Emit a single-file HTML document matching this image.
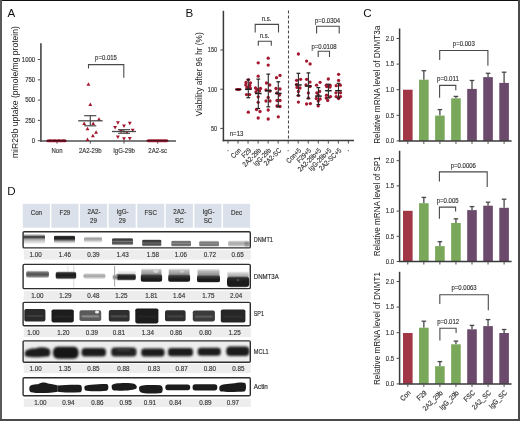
<!DOCTYPE html>
<html><head><meta charset="utf-8"><style>
html,body{margin:0;padding:0;background:#fff;width:520px;height:421px;overflow:hidden}
svg{display:block;will-change:transform}
text{font-family:"Liberation Sans", sans-serif}
text.t{stroke:#3a3a3a;stroke-width:0.16px}
</style></head><body>
<svg width="520" height="421" viewBox="0 0 520 421">
<defs>
<linearGradient id="g1" x1="0" y1="0" x2="0" y2="1"><stop offset="0" stop-color="#eeeeee"/><stop offset="0.15" stop-color="#9a9a9a"/><stop offset="0.27" stop-color="#3c3c3c"/><stop offset="0.38" stop-color="#4c4c4c"/><stop offset="0.5" stop-color="#9a9a9a"/><stop offset="0.7" stop-color="#c8c8c8"/><stop offset="1" stop-color="#f2f2f2"/></linearGradient>
<linearGradient id="g2" x1="0" y1="0" x2="0" y2="1"><stop offset="0" stop-color="#c8c8c8"/><stop offset="0.14" stop-color="#2a2a2a"/><stop offset="0.42" stop-color="#222"/><stop offset="0.56" stop-color="#5a5a5a"/><stop offset="0.75" stop-color="#b0b0b0"/><stop offset="1" stop-color="#f0f0f0"/></linearGradient>
<linearGradient id="g3" x1="0" y1="0" x2="0" y2="1"><stop offset="0" stop-color="#e8e8e8"/><stop offset="0.25" stop-color="#a2a2a2"/><stop offset="0.5" stop-color="#acacac"/><stop offset="0.75" stop-color="#d0d0d0"/><stop offset="1" stop-color="#f0f0f0"/></linearGradient>
<linearGradient id="g4" x1="0" y1="0" x2="0" y2="1"><stop offset="0" stop-color="#c5c5c5"/><stop offset="0.14" stop-color="#363636"/><stop offset="0.32" stop-color="#474747"/><stop offset="0.5" stop-color="#7a7a7a"/><stop offset="0.66" stop-color="#484848"/><stop offset="0.84" stop-color="#6a6a6a"/><stop offset="1" stop-color="#dddddd"/></linearGradient>
<linearGradient id="g5" x1="0" y1="0" x2="0" y2="1"><stop offset="0" stop-color="#c8c8c8"/><stop offset="0.12" stop-color="#363636"/><stop offset="0.35" stop-color="#444"/><stop offset="0.55" stop-color="#666"/><stop offset="0.75" stop-color="#4a4a4a"/><stop offset="0.9" stop-color="#888"/><stop offset="1" stop-color="#e0e0e0"/></linearGradient>
<linearGradient id="g6" x1="0" y1="0" x2="0" y2="1"><stop offset="0" stop-color="#dadada"/><stop offset="0.2" stop-color="#666"/><stop offset="0.5" stop-color="#858585"/><stop offset="0.75" stop-color="#5a5a5a"/><stop offset="1" stop-color="#c8c8c8"/></linearGradient>
<linearGradient id="g7" x1="0" y1="0" x2="0" y2="1"><stop offset="0" stop-color="#e0e0e0"/><stop offset="0.22" stop-color="#7a7a7a"/><stop offset="0.5" stop-color="#888"/><stop offset="0.78" stop-color="#6c6c6c"/><stop offset="1" stop-color="#cccccc"/></linearGradient>
<linearGradient id="g8" x1="0" y1="0" x2="0" y2="1"><stop offset="0" stop-color="#ececec"/><stop offset="0.3" stop-color="#b5b5b5"/><stop offset="0.6" stop-color="#acacac"/><stop offset="1" stop-color="#d8d8d8"/></linearGradient>
<linearGradient id="g9" x1="0" y1="0" x2="0" y2="1"><stop offset="0" stop-color="#ccc"/><stop offset="0.4" stop-color="#7a7a7a"/><stop offset="1" stop-color="#aaa"/></linearGradient>
<linearGradient id="g10" x1="0" y1="0" x2="0" y2="1"><stop offset="0" stop-color="#e6e6e6"/><stop offset="0.22" stop-color="#777"/><stop offset="0.5" stop-color="#4e4e4e"/><stop offset="0.78" stop-color="#777"/><stop offset="1" stop-color="#e6e6e6"/></linearGradient>
<linearGradient id="g11" x1="0" y1="0" x2="0" y2="1"><stop offset="0" stop-color="#c0c0c0"/><stop offset="0.2" stop-color="#2c2c2c"/><stop offset="0.5" stop-color="#1c1c1c"/><stop offset="0.8" stop-color="#2e2e2e"/><stop offset="1" stop-color="#cccccc"/></linearGradient>
<linearGradient id="g12" x1="0" y1="0" x2="0" y2="1"><stop offset="0" stop-color="#ececec"/><stop offset="0.3" stop-color="#b0b0b0"/><stop offset="0.6" stop-color="#ababab"/><stop offset="1" stop-color="#ececec"/></linearGradient>
<linearGradient id="g13" x1="0" y1="0" x2="0" y2="1"><stop offset="0" stop-color="#fafafa"/><stop offset="0.6" stop-color="#e4e4e4"/><stop offset="1" stop-color="#cfcfcf"/></linearGradient>
<linearGradient id="g14" x1="0" y1="0" x2="0" y2="1"><stop offset="0" stop-color="#c8c8c8"/><stop offset="0.2" stop-color="#3a3a3a"/><stop offset="0.5" stop-color="#202020"/><stop offset="0.8" stop-color="#2a2a2a"/><stop offset="1" stop-color="#c0c0c0"/></linearGradient>
<linearGradient id="g15" x1="0" y1="0" x2="0" y2="1"><stop offset="0" stop-color="#ddd"/><stop offset="0.5" stop-color="#7a7a7a"/><stop offset="1" stop-color="#ddd"/></linearGradient>
<linearGradient id="g16" x1="0" y1="0" x2="0" y2="1"><stop offset="0" stop-color="#eeeeee"/><stop offset="0.3" stop-color="#b8b8b8"/><stop offset="0.7" stop-color="#9a9a9a"/><stop offset="1" stop-color="#6a6a6a"/></linearGradient>
<linearGradient id="g17" x1="0" y1="0" x2="0" y2="1"><stop offset="0" stop-color="#8a8a8a"/><stop offset="0.2" stop-color="#3a3a3a"/><stop offset="0.6" stop-color="#1e1e1e"/><stop offset="0.9" stop-color="#1c1c1c"/><stop offset="1" stop-color="#aaa"/></linearGradient>
<linearGradient id="g18" x1="0" y1="0" x2="0" y2="1"><stop offset="0" stop-color="#eeeeee"/><stop offset="0.3" stop-color="#b8b8b8"/><stop offset="0.7" stop-color="#9a9a9a"/><stop offset="1" stop-color="#6a6a6a"/></linearGradient>
<linearGradient id="g19" x1="0" y1="0" x2="0" y2="1"><stop offset="0" stop-color="#8a8a8a"/><stop offset="0.2" stop-color="#3a3a3a"/><stop offset="0.6" stop-color="#1e1e1e"/><stop offset="0.9" stop-color="#1c1c1c"/><stop offset="1" stop-color="#aaa"/></linearGradient>
<linearGradient id="g20" x1="0" y1="0" x2="0" y2="1"><stop offset="0" stop-color="#eeeeee"/><stop offset="0.3" stop-color="#b8b8b8"/><stop offset="0.7" stop-color="#9a9a9a"/><stop offset="1" stop-color="#6a6a6a"/></linearGradient>
<linearGradient id="g21" x1="0" y1="0" x2="0" y2="1"><stop offset="0" stop-color="#8a8a8a"/><stop offset="0.2" stop-color="#3a3a3a"/><stop offset="0.6" stop-color="#1e1e1e"/><stop offset="0.9" stop-color="#1c1c1c"/><stop offset="1" stop-color="#aaa"/></linearGradient>
<linearGradient id="g22" x1="0" y1="0" x2="0" y2="1"><stop offset="0" stop-color="#f0f0f0"/><stop offset="0.4" stop-color="#c4c4c4"/><stop offset="1" stop-color="#9a9a9a"/></linearGradient>
<linearGradient id="g23" x1="0" y1="0" x2="0" y2="1"><stop offset="0" stop-color="#888"/><stop offset="0.15" stop-color="#2c2c2c"/><stop offset="0.5" stop-color="#1a1a1a"/><stop offset="0.9" stop-color="#1e1e1e"/><stop offset="1" stop-color="#777"/></linearGradient>
<filter id="b1" x="-20%" y="-50%" width="140%" height="200%"><feGaussianBlur stdDeviation="0.7"/></filter>
<filter id="b05" x="-20%" y="-50%" width="140%" height="200%"><feGaussianBlur stdDeviation="0.45"/></filter>
<filter id="b09" x="-20%" y="-50%" width="140%" height="200%"><feGaussianBlur stdDeviation="0.95"/></filter>
<filter id="b2" x="-20%" y="-50%" width="140%" height="200%"><feGaussianBlur stdDeviation="1.5"/></filter>
</defs>
<rect width="520" height="421" fill="#fff"/>
<rect x="0" y="0" width="520" height="1" fill="#111"/>
<rect x="0" y="0" width="2" height="421" fill="#5a5a5a"/>
<rect x="518" y="0" width="2" height="421" fill="#4a4a4a"/>
<rect x="0" y="419" width="520" height="2" fill="#4a4a4a"/>
<text x="7.60" y="17.20" font-size="11.60" textLength="7.74" lengthAdjust="spacingAndGlyphs" text-anchor="start" fill="#111" >A</text>
<text x="185.40" y="16.90" font-size="11.60" textLength="7.74" lengthAdjust="spacingAndGlyphs" text-anchor="start" fill="#111" >B</text>
<text x="363.20" y="17.10" font-size="11.60" textLength="8.38" lengthAdjust="spacingAndGlyphs" text-anchor="start" fill="#111" >C</text>
<text x="7.20" y="194.70" font-size="11.60" textLength="8.38" lengthAdjust="spacingAndGlyphs" text-anchor="start" fill="#111" >D</text>
<line x1="40.90" y1="43.30" x2="40.90" y2="141.80" stroke="#5a5a5a" stroke-width="1.8" />
<line x1="40.00" y1="141.00" x2="176.00" y2="141.00" stroke="#505050" stroke-width="1.7" />
<line x1="37.80" y1="140.70" x2="40.50" y2="140.70" stroke="#505050" stroke-width="1.0" />
<text class="t" x="35.20" y="143.05" font-size="6.90" textLength="3.34" lengthAdjust="spacingAndGlyphs" text-anchor="end" fill="#333" >0</text>
<line x1="37.80" y1="120.40" x2="40.50" y2="120.40" stroke="#505050" stroke-width="1.0" />
<text class="t" x="35.20" y="122.75" font-size="6.90" textLength="10.01" lengthAdjust="spacingAndGlyphs" text-anchor="end" fill="#333" >250</text>
<line x1="37.80" y1="100.10" x2="40.50" y2="100.10" stroke="#505050" stroke-width="1.0" />
<text class="t" x="35.20" y="102.45" font-size="6.90" textLength="10.01" lengthAdjust="spacingAndGlyphs" text-anchor="end" fill="#333" >500</text>
<line x1="37.80" y1="79.80" x2="40.50" y2="79.80" stroke="#505050" stroke-width="1.0" />
<text class="t" x="35.20" y="82.15" font-size="6.90" textLength="10.01" lengthAdjust="spacingAndGlyphs" text-anchor="end" fill="#333" >750</text>
<line x1="37.80" y1="59.50" x2="40.50" y2="59.50" stroke="#505050" stroke-width="1.0" />
<text class="t" x="35.20" y="61.85" font-size="6.90" textLength="13.35" lengthAdjust="spacingAndGlyphs" text-anchor="end" fill="#333" >1000</text>
<line x1="57.00" y1="141.00" x2="57.00" y2="143.60" stroke="#4a4a4a" stroke-width="1.0" />
<text class="t" x="57.00" y="153.20" font-size="6.90" textLength="11.01" lengthAdjust="spacingAndGlyphs" text-anchor="middle" fill="#333" >Non</text>
<line x1="90.30" y1="141.00" x2="90.30" y2="143.60" stroke="#4a4a4a" stroke-width="1.0" />
<text class="t" x="90.30" y="153.20" font-size="6.90" textLength="22.68" lengthAdjust="spacingAndGlyphs" text-anchor="middle" fill="#333" >2A2-29b</text>
<line x1="124.00" y1="141.00" x2="124.00" y2="143.60" stroke="#4a4a4a" stroke-width="1.0" />
<text class="t" x="124.00" y="153.20" font-size="6.90" textLength="21.68" lengthAdjust="spacingAndGlyphs" text-anchor="middle" fill="#333" >IgG-29b</text>
<line x1="157.70" y1="141.00" x2="157.70" y2="143.60" stroke="#4a4a4a" stroke-width="1.0" />
<text class="t" x="157.70" y="153.20" font-size="6.90" textLength="18.67" lengthAdjust="spacingAndGlyphs" text-anchor="middle" fill="#333" >2A2-sc</text>
<text x="0" y="0" font-size="8.45" textLength="132.00" lengthAdjust="spacingAndGlyphs" text-anchor="middle" dominant-baseline="central" fill="#222" transform="translate(15.20,92.10) rotate(-90)">miR29b uptake (pmole/mg protein)</text>
<polyline points="88.5,68.5 88.5,64.6 123.8,64.6 123.8,77.7" fill="none" stroke="#4a4a4a" stroke-width="1.1"/>
<text class="t" x="106.00" y="60.20" font-size="6.90" textLength="21.86" lengthAdjust="spacingAndGlyphs" text-anchor="middle" fill="#333" >p=0.015</text>
<rect x="46.8" y="139.5" width="19.4" height="2.7" rx="1" fill="#a3243a"/>
<polygon points="46.55,142.11 49.45,142.11 48.00,139.50" fill="#a3182f"/>
<polygon points="48.75,139.50 51.65,139.50 50.20,142.11" fill="#a3182f"/>
<polygon points="50.95,142.11 53.85,142.11 52.40,139.50" fill="#a3182f"/>
<polygon points="53.15,139.50 56.05,139.50 54.60,142.11" fill="#a3182f"/>
<polygon points="55.35,142.11 58.25,142.11 56.80,139.50" fill="#a3182f"/>
<polygon points="57.55,139.50 60.45,139.50 59.00,142.11" fill="#a3182f"/>
<polygon points="59.75,142.11 62.65,142.11 61.20,139.50" fill="#a3182f"/>
<polygon points="61.95,139.50 64.85,139.50 63.40,142.11" fill="#a3182f"/>
<polygon points="63.75,142.11 66.65,142.11 65.20,139.50" fill="#a3182f"/>
<line x1="46.50" y1="140.80" x2="66.50" y2="140.80" stroke="#2a0610" stroke-width="1.1" />
<polygon points="86.45,85.85 90.35,85.85 88.40,82.34" fill="#a3182f"/>
<polygon points="88.35,106.05 92.25,106.05 90.30,102.55" fill="#a3182f"/>
<polygon points="97.05,120.75 100.95,120.75 99.00,117.25" fill="#a3182f"/>
<polygon points="82.25,124.95 86.15,124.95 84.20,121.45" fill="#a3182f"/>
<polygon points="91.25,124.95 95.15,124.95 93.20,121.45" fill="#a3182f"/>
<polygon points="85.55,130.35 89.45,130.35 87.50,126.84" fill="#a3182f"/>
<polygon points="94.15,133.85 98.05,133.85 96.10,130.34" fill="#a3182f"/>
<polygon points="90.95,137.35 94.85,137.35 92.90,133.84" fill="#a3182f"/>
<polygon points="85.55,140.95 89.45,140.95 87.50,137.44" fill="#a3182f"/>
<line x1="78.20" y1="120.80" x2="102.70" y2="120.80" stroke="#4a4a4a" stroke-width="1.3" />
<line x1="84.20" y1="115.70" x2="96.30" y2="115.70" stroke="#4a4a4a" stroke-width="1.2" />
<line x1="84.20" y1="125.80" x2="96.30" y2="125.80" stroke="#4a4a4a" stroke-width="1.2" />
<line x1="90.30" y1="115.70" x2="90.30" y2="125.80" stroke="#4a4a4a" stroke-width="1.2" />
<polygon points="115.95,121.15 119.85,121.15 117.90,124.66" fill="#a3182f"/>
<polygon points="127.85,121.75 131.75,121.75 129.80,125.25" fill="#a3182f"/>
<polygon points="122.05,124.55 125.95,124.55 124.00,128.06" fill="#a3182f"/>
<polygon points="113.15,125.95 117.05,125.95 115.10,129.46" fill="#a3182f"/>
<polygon points="119.15,130.05 123.05,130.05 121.10,133.56" fill="#a3182f"/>
<polygon points="124.95,130.94 128.85,130.94 126.90,134.45" fill="#a3182f"/>
<polygon points="130.75,128.65 134.65,128.65 132.70,132.16" fill="#a3182f"/>
<polygon points="115.95,135.55 119.85,135.55 117.90,139.06" fill="#a3182f"/>
<polygon points="122.05,137.25 125.95,137.25 124.00,140.75" fill="#a3182f"/>
<polygon points="127.85,137.05 131.75,137.05 129.80,140.56" fill="#a3182f"/>
<line x1="112.00" y1="131.50" x2="136.00" y2="131.50" stroke="#4a4a4a" stroke-width="1.3" />
<line x1="118.00" y1="129.60" x2="130.00" y2="129.60" stroke="#4a4a4a" stroke-width="1.1" />
<line x1="118.00" y1="133.30" x2="130.00" y2="133.30" stroke="#4a4a4a" stroke-width="1.1" />
<line x1="124.00" y1="129.60" x2="124.00" y2="133.30" stroke="#4a4a4a" stroke-width="1.1" />
<rect x="147" y="139.3" width="21" height="3.0" rx="1.2" fill="#a8283c"/>
<line x1="146.50" y1="140.80" x2="168.50" y2="140.80" stroke="#2a0610" stroke-width="1.0" />
<line x1="223.40" y1="10.80" x2="223.40" y2="141.30" stroke="#3a3a3a" stroke-width="1.5" />
<line x1="222.70" y1="140.60" x2="354.00" y2="140.60" stroke="#3a3a3a" stroke-width="1.5" />
<line x1="220.30" y1="128.40" x2="223.30" y2="128.40" stroke="#4a4a4a" stroke-width="1.0" />
<text class="t" x="217.10" y="130.75" font-size="6.77" textLength="6.17" lengthAdjust="spacingAndGlyphs" text-anchor="end" fill="#333" >50</text>
<line x1="220.30" y1="89.20" x2="223.30" y2="89.20" stroke="#4a4a4a" stroke-width="1.0" />
<text class="t" x="217.10" y="91.55" font-size="6.77" textLength="9.26" lengthAdjust="spacingAndGlyphs" text-anchor="end" fill="#333" >100</text>
<line x1="220.30" y1="50.00" x2="223.30" y2="50.00" stroke="#4a4a4a" stroke-width="1.0" />
<text class="t" x="217.10" y="52.35" font-size="6.77" textLength="9.26" lengthAdjust="spacingAndGlyphs" text-anchor="end" fill="#333" >150</text>
<line x1="228.00" y1="141.00" x2="228.00" y2="143.60" stroke="#4a4a4a" stroke-width="1.0" />
<line x1="238.03" y1="141.00" x2="238.03" y2="143.60" stroke="#4a4a4a" stroke-width="1.0" />
<line x1="248.06" y1="141.00" x2="248.06" y2="143.60" stroke="#4a4a4a" stroke-width="1.0" />
<line x1="258.09" y1="141.00" x2="258.09" y2="143.60" stroke="#4a4a4a" stroke-width="1.0" />
<line x1="268.12" y1="141.00" x2="268.12" y2="143.60" stroke="#4a4a4a" stroke-width="1.0" />
<line x1="278.15" y1="141.00" x2="278.15" y2="143.60" stroke="#4a4a4a" stroke-width="1.0" />
<line x1="288.18" y1="141.00" x2="288.18" y2="143.60" stroke="#4a4a4a" stroke-width="1.0" />
<line x1="298.21" y1="141.00" x2="298.21" y2="143.60" stroke="#4a4a4a" stroke-width="1.0" />
<line x1="308.24" y1="141.00" x2="308.24" y2="143.60" stroke="#4a4a4a" stroke-width="1.0" />
<line x1="318.27" y1="141.00" x2="318.27" y2="143.60" stroke="#4a4a4a" stroke-width="1.0" />
<line x1="328.30" y1="141.00" x2="328.30" y2="143.60" stroke="#4a4a4a" stroke-width="1.0" />
<line x1="338.33" y1="141.00" x2="338.33" y2="143.60" stroke="#4a4a4a" stroke-width="1.0" />
<line x1="348.36" y1="141.00" x2="348.36" y2="143.60" stroke="#4a4a4a" stroke-width="1.0" />
<line x1="288.50" y1="10.50" x2="288.50" y2="140.60" stroke="#4a4a4a" stroke-width="1.1" stroke-dasharray="3,2"/>
<text x="0" y="0" font-size="8.30" textLength="83.95" lengthAdjust="spacingAndGlyphs" text-anchor="middle" dominant-baseline="central" fill="#222" transform="translate(198.60,74.20) rotate(-90)">Viability after 96 hr (%)</text>
<text class="t" x="229.70" y="135.90" font-size="7.01" textLength="13.74" lengthAdjust="spacingAndGlyphs" text-anchor="start" fill="#333" >n=13</text>
<rect x="227.40" y="150" width="1.2" height="1.2" fill="#777"/>
<text class="t" x="0" y="0" font-size="7.01" textLength="11.19" lengthAdjust="spacingAndGlyphs" text-anchor="end" fill="#333" transform="translate(241.53,150.90) rotate(-45)">Con</text>
<text class="t" x="0" y="0" font-size="7.01" textLength="10.51" lengthAdjust="spacingAndGlyphs" text-anchor="end" fill="#333" transform="translate(251.56,150.90) rotate(-45)">F29</text>
<text class="t" x="0" y="0" font-size="7.01" textLength="23.06" lengthAdjust="spacingAndGlyphs" text-anchor="end" fill="#333" transform="translate(261.59,150.90) rotate(-45)">2A2-29b</text>
<text class="t" x="0" y="0" font-size="7.01" textLength="22.04" lengthAdjust="spacingAndGlyphs" text-anchor="end" fill="#333" transform="translate(271.62,150.90) rotate(-45)">IgG-29b</text>
<text class="t" x="0" y="0" font-size="7.01" textLength="21.36" lengthAdjust="spacingAndGlyphs" text-anchor="end" fill="#333" transform="translate(281.65,150.90) rotate(-45)">2A2-SC</text>
<rect x="287.58" y="150" width="1.2" height="1.2" fill="#777"/>
<text class="t" x="0" y="0" font-size="7.01" textLength="18.15" lengthAdjust="spacingAndGlyphs" text-anchor="end" fill="#333" transform="translate(301.71,150.90) rotate(-45)">Con+5</text>
<text class="t" x="0" y="0" font-size="7.01" textLength="17.47" lengthAdjust="spacingAndGlyphs" text-anchor="end" fill="#333" transform="translate(311.74,150.90) rotate(-45)">F29+5</text>
<text class="t" x="0" y="0" font-size="7.01" textLength="30.02" lengthAdjust="spacingAndGlyphs" text-anchor="end" fill="#333" transform="translate(321.77,150.90) rotate(-45)">2A2-29b+5</text>
<text class="t" x="0" y="0" font-size="7.01" textLength="29.00" lengthAdjust="spacingAndGlyphs" text-anchor="end" fill="#333" transform="translate(331.80,150.90) rotate(-45)">IgG-29b+5</text>
<text class="t" x="0" y="0" font-size="7.01" textLength="28.31" lengthAdjust="spacingAndGlyphs" text-anchor="end" fill="#333" transform="translate(341.83,150.90) rotate(-45)">2A2-SC+5</text>
<rect x="347.76" y="150" width="1.2" height="1.2" fill="#777"/>
<polyline points="255.2,32.6 255.2,24.4 278.5,24.4 278.5,32.6" fill="none" stroke="#4a4a4a" stroke-width="1.1"/>
<text class="t" x="266.60" y="21.10" font-size="6.90" textLength="9.67" lengthAdjust="spacingAndGlyphs" text-anchor="middle" fill="#333" >n.s.</text>
<polyline points="258.3,45.8 258.3,41.3 271.3,41.3 271.3,45.8" fill="none" stroke="#4a4a4a" stroke-width="1.1"/>
<text class="t" x="264.50" y="38.00" font-size="6.90" textLength="9.67" lengthAdjust="spacingAndGlyphs" text-anchor="middle" fill="#333" >n.s.</text>
<polyline points="316.6,33.5 316.6,26.2 339.2,26.2 339.2,33.5" fill="none" stroke="#4a4a4a" stroke-width="1.1"/>
<text class="t" x="327.60" y="23.00" font-size="6.90" textLength="25.19" lengthAdjust="spacingAndGlyphs" text-anchor="middle" fill="#333" >p=0.0304</text>
<polyline points="318.2,57 318.2,51.2 329.5,51.2 329.5,57" fill="none" stroke="#4a4a4a" stroke-width="1.1"/>
<text class="t" x="324.00" y="48.50" font-size="6.90" textLength="25.19" lengthAdjust="spacingAndGlyphs" text-anchor="middle" fill="#333" >p=0.0108</text>
<ellipse cx="238.3" cy="89.5" rx="3.3" ry="1.4" fill="#8a1226"/>
<line x1="235.60" y1="89.50" x2="241.00" y2="89.50" stroke="#1a0508" stroke-width="1.2" />
<circle cx="248.30" cy="79.60" r="1.65" fill="#a3182f"/>
<circle cx="246.00" cy="82.40" r="1.65" fill="#a3182f"/>
<circle cx="250.50" cy="82.80" r="1.65" fill="#a3182f"/>
<circle cx="245.80" cy="85.00" r="1.65" fill="#a3182f"/>
<circle cx="249.80" cy="85.50" r="1.65" fill="#a3182f"/>
<circle cx="247.00" cy="87.50" r="1.65" fill="#a3182f"/>
<circle cx="250.30" cy="88.20" r="1.65" fill="#a3182f"/>
<circle cx="246.50" cy="94.60" r="1.65" fill="#a3182f"/>
<circle cx="249.60" cy="94.60" r="1.65" fill="#a3182f"/>
<circle cx="248.30" cy="112.20" r="1.65" fill="#a3182f"/>
<line x1="245.00" y1="89.30" x2="251.60" y2="89.30" stroke="#1e1e1e" stroke-width="1.5" />
<line x1="248.30" y1="79.80" x2="248.30" y2="97.70" stroke="#2a2a2a" stroke-width="1.1" />
<line x1="246.40" y1="79.80" x2="250.20" y2="79.80" stroke="#1e1e1e" stroke-width="1.2" />
<line x1="246.40" y1="97.70" x2="250.20" y2="97.70" stroke="#1e1e1e" stroke-width="1.2" />
<circle cx="258.20" cy="62.80" r="1.65" fill="#a3182f"/>
<circle cx="258.20" cy="76.20" r="1.65" fill="#a3182f"/>
<circle cx="255.50" cy="88.00" r="1.65" fill="#a3182f"/>
<circle cx="257.00" cy="89.50" r="1.65" fill="#a3182f"/>
<circle cx="260.50" cy="88.50" r="1.65" fill="#a3182f"/>
<circle cx="256.00" cy="92.00" r="1.65" fill="#a3182f"/>
<circle cx="259.50" cy="91.00" r="1.65" fill="#a3182f"/>
<circle cx="258.20" cy="96.80" r="1.65" fill="#a3182f"/>
<circle cx="258.20" cy="102.30" r="1.65" fill="#a3182f"/>
<circle cx="256.50" cy="109.50" r="1.65" fill="#a3182f"/>
<circle cx="260.00" cy="111.50" r="1.65" fill="#a3182f"/>
<circle cx="258.20" cy="118.00" r="1.65" fill="#a3182f"/>
<line x1="255.00" y1="93.50" x2="261.60" y2="93.50" stroke="#1e1e1e" stroke-width="1.5" />
<line x1="258.30" y1="79.10" x2="258.30" y2="108.50" stroke="#2a2a2a" stroke-width="1.1" />
<line x1="256.40" y1="79.10" x2="260.20" y2="79.10" stroke="#1e1e1e" stroke-width="1.2" />
<line x1="256.40" y1="108.50" x2="260.20" y2="108.50" stroke="#1e1e1e" stroke-width="1.2" />
<circle cx="268.20" cy="58.20" r="1.65" fill="#a3182f"/>
<circle cx="268.20" cy="65.10" r="1.65" fill="#a3182f"/>
<circle cx="266.50" cy="83.00" r="1.65" fill="#a3182f"/>
<circle cx="269.80" cy="85.00" r="1.65" fill="#a3182f"/>
<circle cx="266.00" cy="90.00" r="1.65" fill="#a3182f"/>
<circle cx="270.00" cy="91.00" r="1.65" fill="#a3182f"/>
<circle cx="268.20" cy="97.50" r="1.65" fill="#a3182f"/>
<circle cx="266.00" cy="101.00" r="1.65" fill="#a3182f"/>
<circle cx="270.00" cy="101.00" r="1.65" fill="#a3182f"/>
<circle cx="268.20" cy="110.00" r="1.65" fill="#a3182f"/>
<circle cx="268.20" cy="119.00" r="1.65" fill="#a3182f"/>
<line x1="265.00" y1="90.70" x2="271.60" y2="90.70" stroke="#1e1e1e" stroke-width="1.5" />
<line x1="268.30" y1="74.10" x2="268.30" y2="106.80" stroke="#2a2a2a" stroke-width="1.1" />
<line x1="266.40" y1="74.10" x2="270.20" y2="74.10" stroke="#1e1e1e" stroke-width="1.2" />
<line x1="266.40" y1="106.80" x2="270.20" y2="106.80" stroke="#1e1e1e" stroke-width="1.2" />
<circle cx="280.00" cy="75.40" r="1.65" fill="#a3182f"/>
<circle cx="276.50" cy="77.70" r="1.65" fill="#a3182f"/>
<circle cx="276.00" cy="88.50" r="1.65" fill="#a3182f"/>
<circle cx="280.00" cy="89.00" r="1.65" fill="#a3182f"/>
<circle cx="277.00" cy="93.00" r="1.65" fill="#a3182f"/>
<circle cx="279.50" cy="95.00" r="1.65" fill="#a3182f"/>
<circle cx="277.00" cy="100.50" r="1.65" fill="#a3182f"/>
<circle cx="280.00" cy="100.50" r="1.65" fill="#a3182f"/>
<circle cx="277.00" cy="106.00" r="1.65" fill="#a3182f"/>
<circle cx="280.00" cy="106.50" r="1.65" fill="#a3182f"/>
<circle cx="278.30" cy="116.80" r="1.65" fill="#a3182f"/>
<line x1="275.00" y1="93.40" x2="281.60" y2="93.40" stroke="#1e1e1e" stroke-width="1.5" />
<line x1="278.30" y1="81.80" x2="278.30" y2="106.80" stroke="#2a2a2a" stroke-width="1.1" />
<line x1="276.40" y1="81.80" x2="280.20" y2="81.80" stroke="#1e1e1e" stroke-width="1.2" />
<line x1="276.40" y1="106.80" x2="280.20" y2="106.80" stroke="#1e1e1e" stroke-width="1.2" />
<circle cx="298.40" cy="54.00" r="1.65" fill="#a3182f"/>
<circle cx="296.60" cy="80.30" r="1.65" fill="#a3182f"/>
<circle cx="300.60" cy="79.30" r="1.65" fill="#a3182f"/>
<circle cx="296.60" cy="84.30" r="1.65" fill="#a3182f"/>
<circle cx="297.00" cy="87.40" r="1.65" fill="#a3182f"/>
<circle cx="300.00" cy="88.00" r="1.65" fill="#a3182f"/>
<circle cx="298.40" cy="91.40" r="1.65" fill="#a3182f"/>
<circle cx="298.40" cy="95.40" r="1.65" fill="#a3182f"/>
<circle cx="298.40" cy="102.10" r="1.65" fill="#a3182f"/>
<line x1="295.10" y1="85.00" x2="301.70" y2="85.00" stroke="#1e1e1e" stroke-width="1.5" />
<line x1="298.40" y1="73.30" x2="298.40" y2="95.70" stroke="#2a2a2a" stroke-width="1.1" />
<line x1="296.50" y1="73.30" x2="300.30" y2="73.30" stroke="#1e1e1e" stroke-width="1.2" />
<line x1="296.50" y1="95.70" x2="300.30" y2="95.70" stroke="#1e1e1e" stroke-width="1.2" />
<circle cx="306.60" cy="61.10" r="1.65" fill="#a3182f"/>
<circle cx="310.10" cy="63.90" r="1.65" fill="#a3182f"/>
<circle cx="306.60" cy="79.30" r="1.65" fill="#a3182f"/>
<circle cx="310.00" cy="82.10" r="1.65" fill="#a3182f"/>
<circle cx="306.00" cy="85.00" r="1.65" fill="#a3182f"/>
<circle cx="310.00" cy="86.50" r="1.65" fill="#a3182f"/>
<circle cx="308.40" cy="92.90" r="1.65" fill="#a3182f"/>
<circle cx="308.40" cy="97.90" r="1.65" fill="#a3182f"/>
<circle cx="306.60" cy="104.00" r="1.65" fill="#a3182f"/>
<circle cx="310.40" cy="103.60" r="1.65" fill="#a3182f"/>
<line x1="305.10" y1="86.00" x2="311.70" y2="86.00" stroke="#1e1e1e" stroke-width="1.5" />
<line x1="308.40" y1="72.90" x2="308.40" y2="98.60" stroke="#2a2a2a" stroke-width="1.1" />
<line x1="306.50" y1="72.90" x2="310.30" y2="72.90" stroke="#1e1e1e" stroke-width="1.2" />
<line x1="306.50" y1="98.60" x2="310.30" y2="98.60" stroke="#1e1e1e" stroke-width="1.2" />
<circle cx="320.10" cy="82.30" r="1.65" fill="#a3182f"/>
<circle cx="316.60" cy="85.20" r="1.65" fill="#a3182f"/>
<circle cx="319.60" cy="91.40" r="1.65" fill="#a3182f"/>
<circle cx="316.80" cy="92.80" r="1.65" fill="#a3182f"/>
<circle cx="318.20" cy="95.00" r="1.65" fill="#a3182f"/>
<circle cx="316.30" cy="98.50" r="1.65" fill="#a3182f"/>
<circle cx="320.10" cy="99.00" r="1.65" fill="#a3182f"/>
<circle cx="318.30" cy="101.00" r="1.65" fill="#a3182f"/>
<circle cx="318.20" cy="105.90" r="1.65" fill="#a3182f"/>
<line x1="315.10" y1="96.10" x2="321.70" y2="96.10" stroke="#1e1e1e" stroke-width="1.5" />
<line x1="318.40" y1="87.60" x2="318.40" y2="104.50" stroke="#2a2a2a" stroke-width="1.1" />
<line x1="316.50" y1="87.60" x2="320.30" y2="87.60" stroke="#1e1e1e" stroke-width="1.2" />
<line x1="316.50" y1="104.50" x2="320.30" y2="104.50" stroke="#1e1e1e" stroke-width="1.2" />
<circle cx="328.30" cy="79.00" r="1.65" fill="#a3182f"/>
<circle cx="326.30" cy="85.20" r="1.65" fill="#a3182f"/>
<circle cx="330.20" cy="85.40" r="1.65" fill="#a3182f"/>
<circle cx="326.70" cy="86.60" r="1.65" fill="#a3182f"/>
<circle cx="330.00" cy="87.00" r="1.65" fill="#a3182f"/>
<circle cx="326.50" cy="95.20" r="1.65" fill="#a3182f"/>
<circle cx="330.50" cy="96.60" r="1.65" fill="#a3182f"/>
<circle cx="326.20" cy="98.00" r="1.65" fill="#a3182f"/>
<circle cx="327.70" cy="100.40" r="1.65" fill="#a3182f"/>
<line x1="325.10" y1="90.70" x2="331.70" y2="90.70" stroke="#1e1e1e" stroke-width="1.5" />
<line x1="328.40" y1="84.20" x2="328.40" y2="98.00" stroke="#2a2a2a" stroke-width="1.1" />
<line x1="326.50" y1="84.20" x2="330.30" y2="84.20" stroke="#1e1e1e" stroke-width="1.2" />
<line x1="326.50" y1="98.00" x2="330.30" y2="98.00" stroke="#1e1e1e" stroke-width="1.2" />
<circle cx="338.60" cy="74.30" r="1.65" fill="#a3182f"/>
<circle cx="338.60" cy="80.40" r="1.65" fill="#a3182f"/>
<circle cx="336.20" cy="85.70" r="1.65" fill="#a3182f"/>
<circle cx="340.30" cy="85.20" r="1.65" fill="#a3182f"/>
<circle cx="336.00" cy="92.80" r="1.65" fill="#a3182f"/>
<circle cx="340.50" cy="92.80" r="1.65" fill="#a3182f"/>
<circle cx="336.20" cy="96.60" r="1.65" fill="#a3182f"/>
<circle cx="340.50" cy="96.60" r="1.65" fill="#a3182f"/>
<circle cx="338.60" cy="98.50" r="1.65" fill="#a3182f"/>
<line x1="335.20" y1="90.70" x2="341.80" y2="90.70" stroke="#1e1e1e" stroke-width="1.5" />
<line x1="338.50" y1="83.30" x2="338.50" y2="98.00" stroke="#2a2a2a" stroke-width="1.1" />
<line x1="336.60" y1="83.30" x2="340.40" y2="83.30" stroke="#1e1e1e" stroke-width="1.2" />
<line x1="336.60" y1="98.00" x2="340.40" y2="98.00" stroke="#1e1e1e" stroke-width="1.2" />
<rect x="403.00" y="89.70" width="9.6" height="51.20" fill="#a03646"/>
<line x1="423.85" y1="70.70" x2="423.85" y2="79.70" stroke="#484848" stroke-width="1.3" />
<line x1="421.55" y1="70.70" x2="426.15" y2="70.70" stroke="#484848" stroke-width="1.3" />
<rect x="419.05" y="79.70" width="9.6" height="61.20" fill="#79a85b"/>
<line x1="439.90" y1="109.60" x2="439.90" y2="115.60" stroke="#484848" stroke-width="1.3" />
<line x1="437.60" y1="109.60" x2="442.20" y2="109.60" stroke="#484848" stroke-width="1.3" />
<rect x="435.10" y="115.60" width="9.6" height="25.30" fill="#79a85b"/>
<line x1="455.95" y1="96.40" x2="455.95" y2="98.30" stroke="#484848" stroke-width="1.3" />
<line x1="453.65" y1="96.40" x2="458.25" y2="96.40" stroke="#484848" stroke-width="1.3" />
<rect x="451.15" y="98.30" width="9.6" height="42.60" fill="#79a85b"/>
<line x1="472.00" y1="80.50" x2="472.00" y2="88.90" stroke="#484848" stroke-width="1.3" />
<line x1="469.70" y1="80.50" x2="474.30" y2="80.50" stroke="#484848" stroke-width="1.3" />
<rect x="467.20" y="88.90" width="9.6" height="52.00" fill="#6b4a6c"/>
<line x1="488.05" y1="73.30" x2="488.05" y2="77.10" stroke="#484848" stroke-width="1.3" />
<line x1="485.75" y1="73.30" x2="490.35" y2="73.30" stroke="#484848" stroke-width="1.3" />
<rect x="483.25" y="77.10" width="9.6" height="63.80" fill="#6b4a6c"/>
<line x1="504.10" y1="72.20" x2="504.10" y2="82.90" stroke="#484848" stroke-width="1.3" />
<line x1="501.80" y1="72.20" x2="506.40" y2="72.20" stroke="#484848" stroke-width="1.3" />
<rect x="499.30" y="82.90" width="9.6" height="58.00" fill="#6b4a6c"/>
<line x1="399.60" y1="28.50" x2="399.60" y2="141.50" stroke="#3a3a3a" stroke-width="1.5" />
<line x1="398.90" y1="140.90" x2="511.60" y2="140.90" stroke="#3a3a3a" stroke-width="1.5" />
<line x1="396.60" y1="140.90" x2="399.60" y2="140.90" stroke="#4a4a4a" stroke-width="1.0" />
<text class="t" x="394.20" y="143.25" font-size="6.90" textLength="8.34" lengthAdjust="spacingAndGlyphs" text-anchor="end" fill="#333" >0.0</text>
<line x1="396.60" y1="115.30" x2="399.60" y2="115.30" stroke="#4a4a4a" stroke-width="1.0" />
<text class="t" x="394.20" y="117.65" font-size="6.90" textLength="8.34" lengthAdjust="spacingAndGlyphs" text-anchor="end" fill="#333" >0.5</text>
<line x1="396.60" y1="89.70" x2="399.60" y2="89.70" stroke="#4a4a4a" stroke-width="1.0" />
<text class="t" x="394.20" y="92.05" font-size="6.90" textLength="8.34" lengthAdjust="spacingAndGlyphs" text-anchor="end" fill="#333" >1.0</text>
<line x1="396.60" y1="64.10" x2="399.60" y2="64.10" stroke="#4a4a4a" stroke-width="1.0" />
<text class="t" x="394.20" y="66.45" font-size="6.90" textLength="8.34" lengthAdjust="spacingAndGlyphs" text-anchor="end" fill="#333" >1.5</text>
<line x1="396.60" y1="38.50" x2="399.60" y2="38.50" stroke="#4a4a4a" stroke-width="1.0" />
<text class="t" x="394.20" y="40.85" font-size="6.90" textLength="8.34" lengthAdjust="spacingAndGlyphs" text-anchor="end" fill="#333" >2.0</text>
<line x1="407.80" y1="141.40" x2="407.80" y2="143.90" stroke="#4a4a4a" stroke-width="1.0" />
<line x1="423.85" y1="141.40" x2="423.85" y2="143.90" stroke="#4a4a4a" stroke-width="1.0" />
<line x1="439.90" y1="141.40" x2="439.90" y2="143.90" stroke="#4a4a4a" stroke-width="1.0" />
<line x1="455.95" y1="141.40" x2="455.95" y2="143.90" stroke="#4a4a4a" stroke-width="1.0" />
<line x1="472.00" y1="141.40" x2="472.00" y2="143.90" stroke="#4a4a4a" stroke-width="1.0" />
<line x1="488.05" y1="141.40" x2="488.05" y2="143.90" stroke="#4a4a4a" stroke-width="1.0" />
<line x1="504.10" y1="141.40" x2="504.10" y2="143.90" stroke="#4a4a4a" stroke-width="1.0" />
<text x="0" y="0" font-size="8.45" textLength="118.00" lengthAdjust="spacingAndGlyphs" text-anchor="middle" dominant-baseline="central" fill="#222" transform="translate(376.60,84.80) rotate(-90)">Relative mRNA level of DNMT3a</text>
<polyline points="439.7,59.9 439.7,50.5 487.9,50.5 487.9,65.7" fill="none" stroke="#4a4a4a" stroke-width="1.1"/>
<text class="t" x="463.80" y="46.00" font-size="6.90" textLength="21.86" lengthAdjust="spacingAndGlyphs" text-anchor="middle" fill="#333" >p=0.003</text>
<polyline points="439.6,97.7 439.6,85.4 455.8,85.4 455.8,90.2" fill="none" stroke="#4a4a4a" stroke-width="1.1"/>
<text class="t" x="447.90" y="80.80" font-size="6.90" textLength="21.86" lengthAdjust="spacingAndGlyphs" text-anchor="middle" fill="#333" >p=0.011</text>
<rect x="403.00" y="210.80" width="9.6" height="50.70" fill="#a03646"/>
<line x1="423.85" y1="197.40" x2="423.85" y2="203.20" stroke="#484848" stroke-width="1.3" />
<line x1="421.55" y1="197.40" x2="426.15" y2="197.40" stroke="#484848" stroke-width="1.3" />
<rect x="419.05" y="203.20" width="9.6" height="58.30" fill="#79a85b"/>
<line x1="439.90" y1="241.70" x2="439.90" y2="246.10" stroke="#484848" stroke-width="1.3" />
<line x1="437.60" y1="241.70" x2="442.20" y2="241.70" stroke="#484848" stroke-width="1.3" />
<rect x="435.10" y="246.10" width="9.6" height="15.40" fill="#79a85b"/>
<line x1="455.95" y1="218.80" x2="455.95" y2="223.00" stroke="#484848" stroke-width="1.3" />
<line x1="453.65" y1="218.80" x2="458.25" y2="218.80" stroke="#484848" stroke-width="1.3" />
<rect x="451.15" y="223.00" width="9.6" height="38.50" fill="#79a85b"/>
<line x1="472.00" y1="206.60" x2="472.00" y2="210.10" stroke="#484848" stroke-width="1.3" />
<line x1="469.70" y1="206.60" x2="474.30" y2="206.60" stroke="#484848" stroke-width="1.3" />
<rect x="467.20" y="210.10" width="9.6" height="51.40" fill="#6b4a6c"/>
<line x1="488.05" y1="202.20" x2="488.05" y2="205.70" stroke="#484848" stroke-width="1.3" />
<line x1="485.75" y1="202.20" x2="490.35" y2="202.20" stroke="#484848" stroke-width="1.3" />
<rect x="483.25" y="205.70" width="9.6" height="55.80" fill="#6b4a6c"/>
<line x1="504.10" y1="199.20" x2="504.10" y2="207.80" stroke="#484848" stroke-width="1.3" />
<line x1="501.80" y1="199.20" x2="506.40" y2="199.20" stroke="#484848" stroke-width="1.3" />
<rect x="499.30" y="207.80" width="9.6" height="53.70" fill="#6b4a6c"/>
<line x1="399.60" y1="150.70" x2="399.60" y2="262.10" stroke="#3a3a3a" stroke-width="1.5" />
<line x1="398.90" y1="261.50" x2="511.60" y2="261.50" stroke="#3a3a3a" stroke-width="1.5" />
<line x1="396.60" y1="261.50" x2="399.60" y2="261.50" stroke="#4a4a4a" stroke-width="1.0" />
<text class="t" x="394.20" y="263.85" font-size="6.90" textLength="8.34" lengthAdjust="spacingAndGlyphs" text-anchor="end" fill="#333" >0.0</text>
<line x1="396.60" y1="236.30" x2="399.60" y2="236.30" stroke="#4a4a4a" stroke-width="1.0" />
<text class="t" x="394.20" y="238.65" font-size="6.90" textLength="8.34" lengthAdjust="spacingAndGlyphs" text-anchor="end" fill="#333" >0.5</text>
<line x1="396.60" y1="211.10" x2="399.60" y2="211.10" stroke="#4a4a4a" stroke-width="1.0" />
<text class="t" x="394.20" y="213.45" font-size="6.90" textLength="8.34" lengthAdjust="spacingAndGlyphs" text-anchor="end" fill="#333" >1.0</text>
<line x1="396.60" y1="185.90" x2="399.60" y2="185.90" stroke="#4a4a4a" stroke-width="1.0" />
<text class="t" x="394.20" y="188.25" font-size="6.90" textLength="8.34" lengthAdjust="spacingAndGlyphs" text-anchor="end" fill="#333" >1.5</text>
<line x1="396.60" y1="160.70" x2="399.60" y2="160.70" stroke="#4a4a4a" stroke-width="1.0" />
<text class="t" x="394.20" y="163.05" font-size="6.90" textLength="8.34" lengthAdjust="spacingAndGlyphs" text-anchor="end" fill="#333" >2.0</text>
<line x1="407.80" y1="262.00" x2="407.80" y2="264.50" stroke="#4a4a4a" stroke-width="1.0" />
<line x1="423.85" y1="262.00" x2="423.85" y2="264.50" stroke="#4a4a4a" stroke-width="1.0" />
<line x1="439.90" y1="262.00" x2="439.90" y2="264.50" stroke="#4a4a4a" stroke-width="1.0" />
<line x1="455.95" y1="262.00" x2="455.95" y2="264.50" stroke="#4a4a4a" stroke-width="1.0" />
<line x1="472.00" y1="262.00" x2="472.00" y2="264.50" stroke="#4a4a4a" stroke-width="1.0" />
<line x1="488.05" y1="262.00" x2="488.05" y2="264.50" stroke="#4a4a4a" stroke-width="1.0" />
<line x1="504.10" y1="262.00" x2="504.10" y2="264.50" stroke="#4a4a4a" stroke-width="1.0" />
<text x="0" y="0" font-size="8.34" textLength="100.00" lengthAdjust="spacingAndGlyphs" text-anchor="middle" dominant-baseline="central" fill="#222" transform="translate(376.60,206.30) rotate(-90)">Relative mRNA level of SP1</text>
<polyline points="439.4,181.6 439.4,171.9 487.2,171.9 487.2,187" fill="none" stroke="#4a4a4a" stroke-width="1.1"/>
<text class="t" x="463.30" y="167.70" font-size="6.90" textLength="25.19" lengthAdjust="spacingAndGlyphs" text-anchor="middle" fill="#333" >p=0.0006</text>
<polyline points="439.4,218.8 439.4,207.1 455.6,207.1 455.6,211.6" fill="none" stroke="#4a4a4a" stroke-width="1.1"/>
<text class="t" x="447.70" y="202.60" font-size="6.90" textLength="21.86" lengthAdjust="spacingAndGlyphs" text-anchor="middle" fill="#333" >p=0.005</text>
<rect x="403.00" y="333.00" width="9.6" height="50.90" fill="#a03646"/>
<line x1="423.85" y1="321.20" x2="423.85" y2="327.70" stroke="#484848" stroke-width="1.3" />
<line x1="421.55" y1="321.20" x2="426.15" y2="321.20" stroke="#484848" stroke-width="1.3" />
<rect x="419.05" y="327.70" width="9.6" height="56.20" fill="#79a85b"/>
<line x1="439.90" y1="361.60" x2="439.90" y2="366.20" stroke="#484848" stroke-width="1.3" />
<line x1="437.60" y1="361.60" x2="442.20" y2="361.60" stroke="#484848" stroke-width="1.3" />
<rect x="435.10" y="366.20" width="9.6" height="17.70" fill="#79a85b"/>
<line x1="455.95" y1="341.10" x2="455.95" y2="344.30" stroke="#484848" stroke-width="1.3" />
<line x1="453.65" y1="341.10" x2="458.25" y2="341.10" stroke="#484848" stroke-width="1.3" />
<rect x="451.15" y="344.30" width="9.6" height="39.60" fill="#79a85b"/>
<line x1="472.00" y1="325.40" x2="472.00" y2="329.30" stroke="#484848" stroke-width="1.3" />
<line x1="469.70" y1="325.40" x2="474.30" y2="325.40" stroke="#484848" stroke-width="1.3" />
<rect x="467.20" y="329.30" width="9.6" height="54.60" fill="#6b4a6c"/>
<line x1="488.05" y1="319.60" x2="488.05" y2="326.10" stroke="#484848" stroke-width="1.3" />
<line x1="485.75" y1="319.60" x2="490.35" y2="319.60" stroke="#484848" stroke-width="1.3" />
<rect x="483.25" y="326.10" width="9.6" height="57.80" fill="#6b4a6c"/>
<line x1="504.10" y1="329.50" x2="504.10" y2="333.00" stroke="#484848" stroke-width="1.3" />
<line x1="501.80" y1="329.50" x2="506.40" y2="329.50" stroke="#484848" stroke-width="1.3" />
<rect x="499.30" y="333.00" width="9.6" height="50.90" fill="#6b4a6c"/>
<line x1="399.60" y1="271.80" x2="399.60" y2="384.50" stroke="#3a3a3a" stroke-width="1.5" />
<line x1="398.90" y1="383.90" x2="511.60" y2="383.90" stroke="#3a3a3a" stroke-width="1.5" />
<line x1="396.60" y1="383.90" x2="399.60" y2="383.90" stroke="#4a4a4a" stroke-width="1.0" />
<text class="t" x="394.20" y="386.25" font-size="6.90" textLength="8.34" lengthAdjust="spacingAndGlyphs" text-anchor="end" fill="#333" >0.0</text>
<line x1="396.60" y1="358.30" x2="399.60" y2="358.30" stroke="#4a4a4a" stroke-width="1.0" />
<text class="t" x="394.20" y="360.65" font-size="6.90" textLength="8.34" lengthAdjust="spacingAndGlyphs" text-anchor="end" fill="#333" >0.5</text>
<line x1="396.60" y1="332.70" x2="399.60" y2="332.70" stroke="#4a4a4a" stroke-width="1.0" />
<text class="t" x="394.20" y="335.05" font-size="6.90" textLength="8.34" lengthAdjust="spacingAndGlyphs" text-anchor="end" fill="#333" >1.0</text>
<line x1="396.60" y1="307.10" x2="399.60" y2="307.10" stroke="#4a4a4a" stroke-width="1.0" />
<text class="t" x="394.20" y="309.45" font-size="6.90" textLength="8.34" lengthAdjust="spacingAndGlyphs" text-anchor="end" fill="#333" >1.5</text>
<line x1="396.60" y1="281.50" x2="399.60" y2="281.50" stroke="#4a4a4a" stroke-width="1.0" />
<text class="t" x="394.20" y="283.85" font-size="6.90" textLength="8.34" lengthAdjust="spacingAndGlyphs" text-anchor="end" fill="#333" >2.0</text>
<line x1="407.80" y1="384.40" x2="407.80" y2="386.90" stroke="#4a4a4a" stroke-width="1.0" />
<line x1="423.85" y1="384.40" x2="423.85" y2="386.90" stroke="#4a4a4a" stroke-width="1.0" />
<line x1="439.90" y1="384.40" x2="439.90" y2="386.90" stroke="#4a4a4a" stroke-width="1.0" />
<line x1="455.95" y1="384.40" x2="455.95" y2="386.90" stroke="#4a4a4a" stroke-width="1.0" />
<line x1="472.00" y1="384.40" x2="472.00" y2="386.90" stroke="#4a4a4a" stroke-width="1.0" />
<line x1="488.05" y1="384.40" x2="488.05" y2="386.90" stroke="#4a4a4a" stroke-width="1.0" />
<line x1="504.10" y1="384.40" x2="504.10" y2="386.90" stroke="#4a4a4a" stroke-width="1.0" />
<text x="0" y="0" font-size="8.41" textLength="113.00" lengthAdjust="spacingAndGlyphs" text-anchor="middle" dominant-baseline="central" fill="#222" transform="translate(376.60,328.60) rotate(-90)">Relative mRNA level of DNMT1</text>
<polyline points="439.8,303.9 439.8,294.8 488.3,294.8 488.3,310.3" fill="none" stroke="#4a4a4a" stroke-width="1.1"/>
<text class="t" x="464.05" y="290.00" font-size="6.90" textLength="25.19" lengthAdjust="spacingAndGlyphs" text-anchor="middle" fill="#333" >p=0.0063</text>
<polyline points="439.9,340.4 439.9,328.2 456.1,328.2 456.1,333" fill="none" stroke="#4a4a4a" stroke-width="1.1"/>
<text class="t" x="448.20" y="324.10" font-size="6.90" textLength="21.86" lengthAdjust="spacingAndGlyphs" text-anchor="middle" fill="#333" >p=0.012</text>
<text class="t" x="0" y="0" font-size="7.24" textLength="11.56" lengthAdjust="spacingAndGlyphs" text-anchor="end" fill="#2a2a2a" transform="translate(411.20,393.40) rotate(-45)">Con</text>
<text class="t" x="0" y="0" font-size="7.24" textLength="10.86" lengthAdjust="spacingAndGlyphs" text-anchor="end" fill="#2a2a2a" transform="translate(427.25,393.40) rotate(-45)">F29</text>
<text class="t" x="0" y="0" font-size="7.24" textLength="25.22" lengthAdjust="spacingAndGlyphs" text-anchor="end" fill="#2a2a2a" transform="translate(443.30,393.40) rotate(-45)">2A2_29b</text>
<text class="t" x="0" y="0" font-size="7.24" textLength="24.17" lengthAdjust="spacingAndGlyphs" text-anchor="end" fill="#2a2a2a" transform="translate(459.35,393.40) rotate(-45)">IgG_29b</text>
<text class="t" x="0" y="0" font-size="7.24" textLength="12.60" lengthAdjust="spacingAndGlyphs" text-anchor="end" fill="#2a2a2a" transform="translate(475.40,393.40) rotate(-45)">FSC</text>
<text class="t" x="0" y="0" font-size="7.24" textLength="23.47" lengthAdjust="spacingAndGlyphs" text-anchor="end" fill="#2a2a2a" transform="translate(491.45,393.40) rotate(-45)">2A2_SC</text>
<text class="t" x="0" y="0" font-size="7.24" textLength="22.41" lengthAdjust="spacingAndGlyphs" text-anchor="end" fill="#2a2a2a" transform="translate(507.50,393.40) rotate(-45)">IgG_SC</text>
<rect x="22.80" y="203.8" width="27.1" height="23.9" fill="#dbe1ea"/>
<text class="t" x="36.35" y="214.60" font-size="7.13" textLength="11.37" lengthAdjust="spacingAndGlyphs" text-anchor="middle" fill="#333" >Con</text>
<rect x="51.40" y="203.8" width="27.1" height="23.9" fill="#dbe1ea"/>
<text class="t" x="64.95" y="214.60" font-size="7.13" textLength="10.68" lengthAdjust="spacingAndGlyphs" text-anchor="middle" fill="#333" >F29</text>
<rect x="80.00" y="203.8" width="27.1" height="23.9" fill="#dbe1ea"/>
<text class="t" x="94.05" y="214.40" font-size="7.13" textLength="13.10" lengthAdjust="spacingAndGlyphs" text-anchor="middle" fill="#333" >2A2-</text>
<text class="t" x="93.55" y="222.50" font-size="7.13" textLength="6.90" lengthAdjust="spacingAndGlyphs" text-anchor="middle" fill="#333" >29</text>
<rect x="108.60" y="203.8" width="27.1" height="23.9" fill="#dbe1ea"/>
<text class="t" x="122.65" y="214.40" font-size="7.13" textLength="12.06" lengthAdjust="spacingAndGlyphs" text-anchor="middle" fill="#333" >IgG-</text>
<text class="t" x="122.15" y="222.50" font-size="7.13" textLength="6.90" lengthAdjust="spacingAndGlyphs" text-anchor="middle" fill="#333" >29</text>
<rect x="137.20" y="203.8" width="27.1" height="23.9" fill="#dbe1ea"/>
<text class="t" x="150.75" y="214.60" font-size="7.13" textLength="12.40" lengthAdjust="spacingAndGlyphs" text-anchor="middle" fill="#333" >FSC</text>
<rect x="165.80" y="203.8" width="27.1" height="23.9" fill="#dbe1ea"/>
<text class="t" x="179.85" y="214.40" font-size="7.13" textLength="13.10" lengthAdjust="spacingAndGlyphs" text-anchor="middle" fill="#333" >2A2-</text>
<text class="t" x="179.35" y="222.50" font-size="7.13" textLength="8.61" lengthAdjust="spacingAndGlyphs" text-anchor="middle" fill="#333" >SC</text>
<rect x="194.40" y="203.8" width="27.1" height="23.9" fill="#dbe1ea"/>
<text class="t" x="208.45" y="214.40" font-size="7.13" textLength="12.06" lengthAdjust="spacingAndGlyphs" text-anchor="middle" fill="#333" >IgG-</text>
<text class="t" x="207.95" y="222.50" font-size="7.13" textLength="8.61" lengthAdjust="spacingAndGlyphs" text-anchor="middle" fill="#333" >SC</text>
<rect x="223.00" y="203.8" width="27.1" height="23.9" fill="#dbe1ea"/>
<text class="t" x="236.55" y="214.60" font-size="7.13" textLength="11.03" lengthAdjust="spacingAndGlyphs" text-anchor="middle" fill="#333" >Dec</text>
<rect x="23.8" y="250.0" width="227" height="9.60" fill="#ededed"/>
<text class="t" x="35.70" y="257.00" font-size="7.24" textLength="12.26" lengthAdjust="spacingAndGlyphs" text-anchor="middle" fill="#333" >1.00</text>
<text class="t" x="65.00" y="257.00" font-size="7.24" textLength="12.26" lengthAdjust="spacingAndGlyphs" text-anchor="middle" fill="#333" >1.46</text>
<text class="t" x="93.40" y="257.00" font-size="7.24" textLength="12.26" lengthAdjust="spacingAndGlyphs" text-anchor="middle" fill="#333" >0.39</text>
<text class="t" x="122.70" y="257.00" font-size="7.24" textLength="12.26" lengthAdjust="spacingAndGlyphs" text-anchor="middle" fill="#333" >1.43</text>
<text class="t" x="153.00" y="257.00" font-size="7.24" textLength="12.26" lengthAdjust="spacingAndGlyphs" text-anchor="middle" fill="#333" >1.58</text>
<text class="t" x="180.80" y="257.00" font-size="7.24" textLength="12.26" lengthAdjust="spacingAndGlyphs" text-anchor="middle" fill="#333" >1.06</text>
<text class="t" x="210.00" y="257.00" font-size="7.24" textLength="12.26" lengthAdjust="spacingAndGlyphs" text-anchor="middle" fill="#333" >0.72</text>
<text class="t" x="237.70" y="257.00" font-size="7.24" textLength="12.26" lengthAdjust="spacingAndGlyphs" text-anchor="middle" fill="#333" >0.65</text>
<rect x="23.40" y="234.00" width="21.60" height="9.80" rx="1.5" fill="url(#g1)" opacity="1" filter="url(#b05)"/>
<rect x="54.00" y="235.40" width="21.00" height="8.00" rx="1.5" fill="url(#g2)" opacity="1" filter="url(#b05)"/>
<rect x="84.00" y="236.80" width="18.00" height="5.80" rx="1.5" fill="url(#g3)" opacity="1" filter="url(#b1)"/>
<rect x="112.00" y="238.00" width="21.00" height="7.20" rx="1.5" fill="url(#g4)" opacity="1" filter="url(#b1)"/>
<rect x="142.20" y="239.40" width="19.10" height="7.00" rx="1.5" fill="url(#g5)" opacity="1" filter="url(#b1)"/>
<rect x="171.30" y="240.40" width="19.70" height="6.20" rx="1.5" fill="url(#g6)" opacity="1" filter="url(#b1)"/>
<rect x="199.20" y="240.80" width="19.80" height="5.80" rx="1.5" fill="url(#g7)" opacity="1" filter="url(#b1)"/>
<rect x="228.20" y="240.40" width="20.40" height="6.20" rx="1.5" fill="url(#g8)" opacity="1" filter="url(#b1)"/>
<rect x="244.50" y="240.80" width="4.90" height="6.00" rx="1.5" fill="url(#g9)" opacity="0.8" filter="url(#b1)"/>
<rect x="23.1" y="231.80" width="227.2" height="16.10" rx="1.2" fill="none" stroke="#2e2e2e" stroke-width="1.4"/>
<text class="t" x="253.80" y="242.15" font-size="6.60" textLength="19.10" lengthAdjust="spacingAndGlyphs" text-anchor="start" fill="#222" >DNMT1</text>
<rect x="23.8" y="291.0" width="227" height="9.40" fill="#ededed"/>
<text class="t" x="37.30" y="297.90" font-size="7.24" textLength="12.26" lengthAdjust="spacingAndGlyphs" text-anchor="middle" fill="#333" >1.00</text>
<text class="t" x="65.50" y="297.90" font-size="7.24" textLength="12.26" lengthAdjust="spacingAndGlyphs" text-anchor="middle" fill="#333" >1.29</text>
<text class="t" x="93.40" y="297.90" font-size="7.24" textLength="12.26" lengthAdjust="spacingAndGlyphs" text-anchor="middle" fill="#333" >0.48</text>
<text class="t" x="121.50" y="297.90" font-size="7.24" textLength="12.26" lengthAdjust="spacingAndGlyphs" text-anchor="middle" fill="#333" >1.25</text>
<text class="t" x="151.50" y="297.90" font-size="7.24" textLength="12.26" lengthAdjust="spacingAndGlyphs" text-anchor="middle" fill="#333" >1.81</text>
<text class="t" x="179.20" y="297.90" font-size="7.24" textLength="12.26" lengthAdjust="spacingAndGlyphs" text-anchor="middle" fill="#333" >1.64</text>
<text class="t" x="208.50" y="297.90" font-size="7.24" textLength="12.26" lengthAdjust="spacingAndGlyphs" text-anchor="middle" fill="#333" >1.75</text>
<text class="t" x="236.20" y="297.90" font-size="7.24" textLength="12.26" lengthAdjust="spacingAndGlyphs" text-anchor="middle" fill="#333" >2.04</text>
<rect x="26.20" y="270.60" width="22.70" height="7.40" rx="2.5" fill="url(#g10)" opacity="1" filter="url(#b1)"/>
<rect x="67.6" y="266" width="0.6" height="8" fill="#d0d0d0" filter="url(#b05)"/>
<rect x="73.5" y="265.5" width="0.7" height="22" fill="#c8c8c8" filter="url(#b05)"/>
<rect x="55.70" y="271.40" width="20.50" height="7.90" rx="2.5" fill="url(#g11)" opacity="1" filter="url(#b1)"/>
<rect x="83.40" y="273.20" width="22.00" height="5.70" rx="2.5" fill="url(#g12)" opacity="1" filter="url(#b1)"/>
<rect x="118.00" y="270.50" width="17.80" height="4.10" rx="0.5" fill="url(#g13)" opacity="1" filter="url(#b1)"/>
<rect x="115.50" y="273.60" width="20.30" height="7.00" rx="2.5" fill="url(#g14)" opacity="1" filter="url(#b1)"/>
<rect x="112.70" y="274.40" width="4.80" height="5.60" rx="0.5" fill="url(#g15)" opacity="0.9" filter="url(#b1)"/>
<rect x="114.3" y="266" width="0.8" height="20.5" fill="#8c8c8c" filter="url(#b05)"/>
<rect x="141.30" y="268.50" width="20.30" height="7.00" rx="0.5" fill="url(#g16)" opacity="1" filter="url(#b1)"/>
<rect x="140.80" y="274.00" width="21.30" height="8.00" rx="2.5" fill="url(#g17)" opacity="1" filter="url(#b1)"/>
<rect x="168.70" y="268.50" width="20.90" height="7.30" rx="0.5" fill="url(#g18)" opacity="1" filter="url(#b1)"/>
<rect x="168.20" y="274.30" width="21.90" height="7.70" rx="2.5" fill="url(#g19)" opacity="1" filter="url(#b1)"/>
<rect x="197.50" y="269.00" width="22.00" height="7.50" rx="0.5" fill="url(#g20)" opacity="1" filter="url(#b1)"/>
<rect x="197.00" y="275.00" width="23.00" height="7.50" rx="2.5" fill="url(#g21)" opacity="1" filter="url(#b1)"/>
<ellipse cx="155.8" cy="271.2" rx="2.4" ry="1.7" fill="#d6d6d6" filter="url(#b05)"/>
<ellipse cx="182" cy="271.5" rx="1.8" ry="1.3" fill="#cccccc" filter="url(#b05)"/>
<rect x="227.50" y="271.50" width="21.20" height="6.30" rx="0.5" fill="url(#g22)" opacity="1" filter="url(#b1)"/>
<rect x="227.00" y="276.30" width="22.20" height="10.90" rx="3.5" fill="url(#g23)" opacity="1" filter="url(#b1)"/>
<ellipse cx="238" cy="280" rx="1.6" ry="1.2" fill="#444" filter="url(#b1)"/>
<rect x="23.1" y="264.40" width="227.2" height="24.20" rx="1.2" fill="none" stroke="#2e2e2e" stroke-width="1.4"/>
<text class="t" x="253.80" y="278.80" font-size="6.60" textLength="24.90" lengthAdjust="spacingAndGlyphs" text-anchor="start" fill="#222" >DNMT3A</text>
<rect x="23.8" y="327.7" width="227" height="9.30" fill="#ededed"/>
<text class="t" x="33.40" y="334.55" font-size="7.24" textLength="12.26" lengthAdjust="spacingAndGlyphs" text-anchor="middle" fill="#333" >1.00</text>
<text class="t" x="63.40" y="334.55" font-size="7.24" textLength="12.26" lengthAdjust="spacingAndGlyphs" text-anchor="middle" fill="#333" >1.20</text>
<text class="t" x="92.00" y="334.55" font-size="7.24" textLength="12.26" lengthAdjust="spacingAndGlyphs" text-anchor="middle" fill="#333" >0.39</text>
<text class="t" x="118.80" y="334.55" font-size="7.24" textLength="12.26" lengthAdjust="spacingAndGlyphs" text-anchor="middle" fill="#333" >0.81</text>
<text class="t" x="147.80" y="334.55" font-size="7.24" textLength="12.26" lengthAdjust="spacingAndGlyphs" text-anchor="middle" fill="#333" >1.34</text>
<text class="t" x="176.20" y="334.55" font-size="7.24" textLength="12.26" lengthAdjust="spacingAndGlyphs" text-anchor="middle" fill="#333" >0.86</text>
<text class="t" x="205.40" y="334.55" font-size="7.24" textLength="12.26" lengthAdjust="spacingAndGlyphs" text-anchor="middle" fill="#333" >0.80</text>
<text class="t" x="234.60" y="334.55" font-size="7.24" textLength="12.26" lengthAdjust="spacingAndGlyphs" text-anchor="middle" fill="#333" >1.25</text>
<rect x="24.30" y="309.00" width="21.10" height="12.60" rx="1.80" fill="#2a2a2a" opacity="1" filter="url(#b1)"/>
<rect x="26.30" y="314.90" width="17.10" height="2.20" rx="1.00" fill="#4a4a4a" opacity="0.6" filter="url(#b1)"/>
<rect x="51.50" y="309.50" width="22.30" height="12.90" rx="1.80" fill="#1e1e1e" opacity="1" filter="url(#b1)"/>
<rect x="53.50" y="315.55" width="18.30" height="2.20" rx="1.00" fill="#2e2e2e" opacity="0.6" filter="url(#b1)"/>
<rect x="79.50" y="310.20" width="21.70" height="10.80" rx="1.80" fill="#5a5a5a" opacity="1" filter="url(#b1)"/>
<rect x="81.50" y="315.20" width="17.70" height="2.20" rx="1.00" fill="#a8a8a8" opacity="0.6" filter="url(#b1)"/>
<rect x="108.80" y="310.00" width="20.80" height="11.50" rx="1.80" fill="#2e2e2e" opacity="1" filter="url(#b1)"/>
<rect x="110.80" y="315.35" width="16.80" height="2.20" rx="1.00" fill="#5e5e5e" opacity="0.6" filter="url(#b1)"/>
<rect x="135.30" y="308.40" width="23.10" height="15.00" rx="1.80" fill="#1c1c1c" opacity="1" filter="url(#b1)"/>
<rect x="137.30" y="315.50" width="19.10" height="2.20" rx="1.00" fill="#2a2a2a" opacity="0.6" filter="url(#b1)"/>
<rect x="165.00" y="310.20" width="20.60" height="11.00" rx="1.80" fill="#2e2e2e" opacity="1" filter="url(#b1)"/>
<rect x="167.00" y="315.30" width="16.60" height="2.20" rx="1.00" fill="#505050" opacity="0.6" filter="url(#b1)"/>
<rect x="192.80" y="310.50" width="22.10" height="10.90" rx="1.80" fill="#3a3a3a" opacity="1" filter="url(#b1)"/>
<rect x="194.80" y="315.55" width="18.10" height="2.20" rx="1.00" fill="#6a6a6a" opacity="0.6" filter="url(#b1)"/>
<rect x="220.80" y="309.40" width="24.60" height="13.20" rx="1.80" fill="#262626" opacity="1" filter="url(#b1)"/>
<rect x="222.80" y="315.60" width="20.60" height="2.20" rx="1.00" fill="#363636" opacity="0.6" filter="url(#b1)"/>
<ellipse cx="97" cy="312" rx="2" ry="1.5" fill="#f0f0f0" filter="url(#b05)"/>
<rect x="23.1" y="302.40" width="227.2" height="23.40" rx="1.2" fill="none" stroke="#2e2e2e" stroke-width="1.4"/>
<text class="t" x="253.80" y="316.40" font-size="6.60" textLength="10.10" lengthAdjust="spacingAndGlyphs" text-anchor="start" fill="#222" >SP1</text>
<rect x="23.8" y="363.8" width="227" height="9.20" fill="#ededed"/>
<text class="t" x="35.70" y="370.60" font-size="7.24" textLength="12.26" lengthAdjust="spacingAndGlyphs" text-anchor="middle" fill="#333" >1.00</text>
<text class="t" x="65.00" y="370.60" font-size="7.24" textLength="12.26" lengthAdjust="spacingAndGlyphs" text-anchor="middle" fill="#333" >1.35</text>
<text class="t" x="93.40" y="370.60" font-size="7.24" textLength="12.26" lengthAdjust="spacingAndGlyphs" text-anchor="middle" fill="#333" >0.85</text>
<text class="t" x="123.40" y="370.60" font-size="7.24" textLength="12.26" lengthAdjust="spacingAndGlyphs" text-anchor="middle" fill="#333" >0.88</text>
<text class="t" x="154.00" y="370.60" font-size="7.24" textLength="12.26" lengthAdjust="spacingAndGlyphs" text-anchor="middle" fill="#333" >0.83</text>
<text class="t" x="181.70" y="370.60" font-size="7.24" textLength="12.26" lengthAdjust="spacingAndGlyphs" text-anchor="middle" fill="#333" >0.87</text>
<text class="t" x="210.00" y="370.60" font-size="7.24" textLength="12.26" lengthAdjust="spacingAndGlyphs" text-anchor="middle" fill="#333" >0.80</text>
<text class="t" x="238.30" y="370.60" font-size="7.24" textLength="12.26" lengthAdjust="spacingAndGlyphs" text-anchor="middle" fill="#333" >0.85</text>
<rect x="23.6" y="341.4" width="226.2" height="20.4" fill="#ededed"/>
<path d="M24.8,353 C25,349.5 30,348.6 36,348.3 C40,346.8 44,347 48.5,348.5 C51,349.5 51,355.5 48.5,356.6 C40,357.6 30,357.6 26,356.6 C24.8,356 24.6,354 24.8,353 Z" fill="#1c1c1c" filter="url(#b09)"/>
<rect x="53.00" y="346.80" width="25.60" height="12.00" rx="5.00" fill="#161616" opacity="1" filter="url(#b09)"/>
<rect x="81.50" y="348.00" width="24.50" height="8.60" rx="3.50" fill="#1e1e1e" opacity="1" filter="url(#b09)"/>
<rect x="111.20" y="347.40" width="25.30" height="9.00" rx="3.50" fill="#222" opacity="1" filter="url(#b09)"/>
<rect x="117.00" y="348.40" width="13.00" height="2.60" rx="1.20" fill="#4a4a4a" opacity="0.7" filter="url(#b09)"/>
<rect x="141.20" y="348.60" width="23.30" height="7.80" rx="3.20" fill="#1a1a1a" opacity="1" filter="url(#b09)"/>
<rect x="168.00" y="348.00" width="25.00" height="8.20" rx="3.20" fill="#1a1a1a" opacity="1" filter="url(#b09)"/>
<rect x="197.70" y="347.70" width="23.10" height="8.10" rx="3.20" fill="#1e1e1e" opacity="1" filter="url(#b09)"/>
<rect x="226.20" y="346.40" width="23.20" height="9.60" rx="4.00" fill="#1a1a1a" opacity="1" filter="url(#b09)"/>
<rect x="23.1" y="340.90" width="227.2" height="21.40" rx="1.2" fill="none" stroke="#2e2e2e" stroke-width="1.4"/>
<text class="t" x="253.80" y="353.90" font-size="6.60" textLength="14.80" lengthAdjust="spacingAndGlyphs" text-anchor="start" fill="#222" >MCL1</text>
<rect x="23.8" y="398.6" width="227" height="8.40" fill="#ededed"/>
<text class="t" x="40.30" y="405.00" font-size="7.24" textLength="12.26" lengthAdjust="spacingAndGlyphs" text-anchor="middle" fill="#333" >1.00</text>
<text class="t" x="68.50" y="405.00" font-size="7.24" textLength="12.26" lengthAdjust="spacingAndGlyphs" text-anchor="middle" fill="#333" >0.94</text>
<text class="t" x="97.30" y="405.00" font-size="7.24" textLength="12.26" lengthAdjust="spacingAndGlyphs" text-anchor="middle" fill="#333" >0.86</text>
<text class="t" x="125.70" y="405.00" font-size="7.24" textLength="12.26" lengthAdjust="spacingAndGlyphs" text-anchor="middle" fill="#333" >0.95</text>
<text class="t" x="150.00" y="405.00" font-size="7.24" textLength="12.26" lengthAdjust="spacingAndGlyphs" text-anchor="middle" fill="#333" >0.91</text>
<text class="t" x="175.50" y="405.00" font-size="7.24" textLength="12.26" lengthAdjust="spacingAndGlyphs" text-anchor="middle" fill="#333" >0.84</text>
<text class="t" x="205.40" y="405.00" font-size="7.24" textLength="12.26" lengthAdjust="spacingAndGlyphs" text-anchor="middle" fill="#333" >0.89</text>
<text class="t" x="233.00" y="405.00" font-size="7.24" textLength="12.26" lengthAdjust="spacingAndGlyphs" text-anchor="middle" fill="#333" >0.97</text>
<path d="M29.3,388 C29.3,385 33,384.4 38,384.2 C41,382.4 45,382 48,383.4 C52,384.4 56,384.4 57.7,385.4 L57.7,391.8 C50,393.4 36,393.4 31,392.2 C29.3,391.6 29.2,389.5 29.3,388 Z" fill="#1b1b1b" filter="url(#b05)"/>
<path d="M57.7,385.4 C64,385 74,384.6 80.5,384.9 C82.3,385.5 82.3,391.6 80.5,392.2 C72,392.8 62,392.8 57.7,391.8 Z" fill="#1b1b1b" filter="url(#b05)"/>
<path d="M84.4,386.8 C84.6,384.8 95,384.2 106.5,384 C109,384.4 109,390 106.5,390.8 C98,391.5 88,391.5 85.4,390.6 C84.4,390 84.3,388 84.4,386.8 Z" fill="#1b1b1b" filter="url(#b05)"/>
<path d="M111.7,385.8 C111.8,383.4 120,382.8 128,383 C136.3,383.4 137.2,385.6 136.7,388 C135.4,390.4 122,391.1 114,390.6 C111.8,390.2 111.6,387.5 111.7,385.8 Z" fill="#1b1b1b" filter="url(#b05)"/>
<path d="M139.1,387.5 C139.3,384.8 150,384.9 160.3,385.3 C163.3,386 163.3,391.5 161.3,393 C152,394 143,393.8 140.3,392 C139.1,391 139,389 139.1,387.5 Z" fill="#1b1b1b" filter="url(#b05)"/>
<rect x="165.30" y="384.40" width="24.90" height="5.80" rx="2.60" fill="#1b1b1b" opacity="1" filter="url(#b1)"/>
<rect x="192.60" y="384.20" width="24.70" height="6.20" rx="2.60" fill="#1b1b1b" opacity="1" filter="url(#b1)"/>
<path d="M219.3,387.5 C219.5,384.6 225,384.2 232,383.6 C238,382.5 243,382 245.2,383 C246.4,385 246.4,390.5 244.4,391.6 C235,392.2 225,392.2 221,391.6 C219.4,391 219.2,389 219.3,387.5 Z" fill="#1b1b1b" filter="url(#b05)"/>
<rect x="23.1" y="377.80" width="227.2" height="18.00" rx="1.2" fill="none" stroke="#2e2e2e" stroke-width="1.4"/>
<text class="t" x="253.80" y="389.10" font-size="6.60" textLength="14.10" lengthAdjust="spacingAndGlyphs" text-anchor="start" fill="#222" >Actin</text>
</svg>
</body></html>
